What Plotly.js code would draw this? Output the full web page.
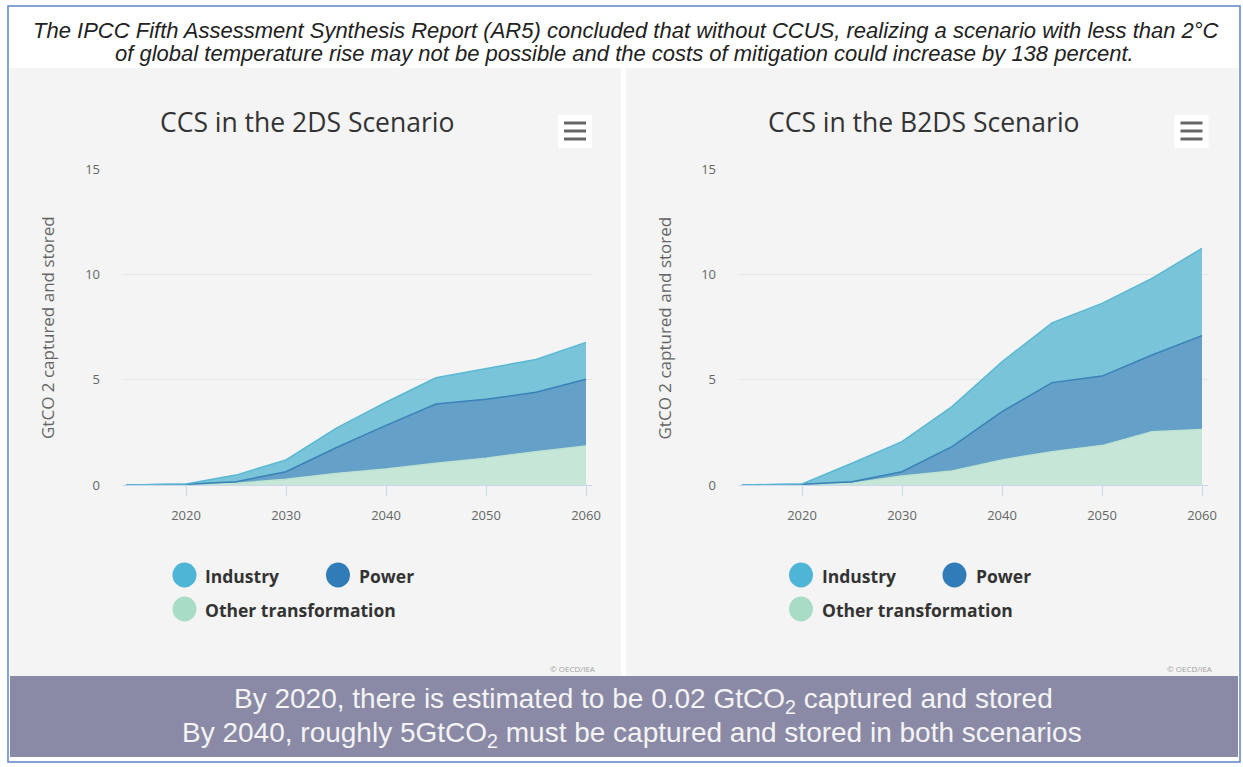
<!DOCTYPE html>
<html>
<head>
<meta charset="utf-8">
<script src="https://cdn.plot.ly/plotly-3.0.1.min.js"></script>
<style>html,body{margin:0;padding:0;background:#fff;}#chart{width:1243px;height:767px;}</style>
</head>
<body>
<div id="chart"></div>
<script>
// ---- data ----
const years = [2014, 2020, 2025, 2030, 2035, 2040, 2045, 2050, 2055, 2060];
const seriesNames = ["Industry", "Power", "Other transformation"];
const chartTitles = ["CCS in the 2DS Scenario", "CCS in the B2DS Scenario"];
const yTitle = "GtCO 2 captured and stored";
// 2DS scenario (GtCO2)
const industry2DS = [0, 0.02, 0.31, 0.56, 0.92, 1.10, 1.25, 1.47, 1.56, 1.75];
const power2DS    = [0, 0.01, 0.08, 0.36, 1.22, 2.07, 2.81, 2.80, 2.82, 3.17];
const other2DS    = [0, 0.02, 0.08, 0.27, 0.55, 0.76, 1.03, 1.27, 1.58, 1.85];
// B2DS scenario (GtCO2)
const industryB2DS = [0, 0.02, 0.87, 1.43, 1.90, 2.37, 2.84, 3.45, 3.64, 4.14];
const powerB2DS    = [0, 0.01, 0.08, 0.20, 1.16, 2.29, 3.28, 3.30, 3.64, 4.45];
const otherB2DS    = [0, 0.02, 0.08, 0.43, 0.66, 1.19, 1.58, 1.87, 2.53, 2.64];
const xTicks = [2020, 2030, 2040, 2050, 2060];
const yTicks = [0, 5, 10, 15];

const topLines = [
  "The IPCC Fifth Assessment Synthesis Report (AR5) concluded that without CCUS, realizing a scenario with less than 2°C",
  "of global temperature rise may not be possible and the costs of mitigation could increase by 138 percent."
];
const bannerLines = [
  "By 2020, there is estimated to be 0.02 GtCO<sub>2</sub> captured and stored",
  "By 2040, roughly 5GtCO<sub>2</sub> must be captured and stored in both scenarios"
];

// ---- styling ----
const W = 1243, H = 767;
const px = x => x / W;
const py = y => 1 - y / H;
const colors = {
  "Industry": {fill: "rgba(118,194,216,0.97)", line: "#58b8d3", dot: "#4fb5d6"},
  "Power": {fill: "rgba(98,158,199,0.98)", line: "#3882b8", dot: "#2f7cb8"},
  "Other transformation": {fill: "rgba(198,230,216,1)", line: "#bde3d1", dot: "#a9dcc6"}
};

function mkTraces(ind, pow, oth, xa, ya, grp) {
  const order = [["Other transformation", oth], ["Power", pow], ["Industry", ind]];
  return order.map(([name, vals]) => ({
    type: "scatter", mode: "lines", name: name, x: years, y: vals,
    xaxis: xa, yaxis: ya, stackgroup: grp,
    line: {color: colors[name].line, width: 1.5},
    fillcolor: colors[name].fill, showlegend: false, hoverinfo: "x+y+name"
  }));
}

const data = [
  ...mkTraces(industry2DS, power2DS, other2DS, "x", "y", "a"),
  ...mkTraces(industryB2DS, powerB2DS, otherB2DS, "x2", "y2", "b")
];

function xAx(d0, d1) {
  return {
    domain: [px(d0), px(d1)], range: [2013.7, 2060.6], tickvals: xTicks,
    ticks: "outside", ticklen: 10, tickcolor: "#ccd6eb", tickwidth: 1,
    showline: true, linecolor: "#ccd6eb", linewidth: 1, showgrid: false, zeroline: false,
    tickfont: {family: "Open Sans", size: 13, color: "#666"}, ticklabelstandoff: 8, fixedrange: true
  };
}
function yAx() {
  return {
    domain: [py(485), py(169)], range: [0, 15], tickvals: yTicks,
    showgrid: true, gridcolor: "#e6e6e6", gridwidth: 1, zeroline: false, showline: false,
    ticks: "", ticklabelstandoff: 22,
    tickfont: {family: "Open Sans", size: 13, color: "#666"}, fixedrange: true
  };
}

const shapes = [];
const annotations = [];
// outer box
shapes.push({type: "rect", xref: "paper", yref: "paper", x0: px(8), x1: px(1240), y0: py(762), y1: py(6),
  line: {color: "#5b86c5", width: 1.5}, fillcolor: "rgba(0,0,0,0)", layer: "below"});
// panels
shapes.push({type: "rect", xref: "paper", yref: "paper", x0: px(10), x1: px(621), y0: py(676), y1: py(68),
  line: {width: 0}, fillcolor: "#f4f4f4", layer: "below"});
shapes.push({type: "rect", xref: "paper", yref: "paper", x0: px(626), x1: px(1238), y0: py(676), y1: py(68),
  line: {width: 0}, fillcolor: "#f4f4f4", layer: "below"});
// banner
shapes.push({type: "rect", xref: "paper", yref: "paper", x0: px(10), x1: px(1238), y0: py(757), y1: py(676),
  line: {width: 0}, fillcolor: "#8a8aa6", layer: "below"});

[[topLines[0], 626, 30], [topLines[1], 624, 53]].forEach(([t, x, y]) => {
  annotations.push({xref: "paper", yref: "paper", x: px(x), y: py(y), xanchor: "center", yanchor: "middle",
    text: "<i>" + t + "</i>", showarrow: false, align: "center",
    font: {family: "Liberation Sans, Arial", size: 22, color: "#222"}});
});
[[bannerLines[0], 643, 700], [bannerLines[1], 632, 734]].forEach(([t, x, y]) => {
  annotations.push({xref: "paper", yref: "paper", x: px(x), y: py(y), xanchor: "center", yanchor: "middle",
    text: t, showarrow: false, align: "center",
    font: {family: "Liberation Sans, Arial", size: 28, color: "#f4f4f4"}});
});

const offsets = [0, 616.5];
offsets.forEach((o, i) => {
  // chart title
  annotations.push({xref: "paper", yref: "paper", x: px(307 + o), y: py(122), xanchor: "center", yanchor: "middle",
    text: chartTitles[i], showarrow: false, font: {family: "Open Sans", size: 26.5, color: "#333"}});
  // y-axis title
  annotations.push({xref: "paper", yref: "paper", x: px(47 + o), y: py(328), xanchor: "center", yanchor: "middle",
    text: yTitle, textangle: -90, showarrow: false, font: {family: "Open Sans", size: 17, color: "#666"}});
  // hamburger button
  shapes.push({type: "rect", xref: "paper", yref: "paper", x0: px(558 + o), x1: px(592 + o), y0: py(148), y1: py(115),
    line: {width: 0}, fillcolor: "#ffffff", layer: "above"});
  [123, 131, 139].forEach(yy => {
    shapes.push({type: "line", xref: "paper", yref: "paper", x0: px(564 + o), x1: px(586 + o), y0: py(yy), y1: py(yy),
      line: {color: "#666", width: 3}, layer: "above"});
  });
  // legend
  const leg = [
    {name: seriesNames[0], cx: 184.5, cy: 575, tx: 203},
    {name: seriesNames[1], cx: 338, cy: 575, tx: 357},
    {name: seriesNames[2], cx: 184.5, cy: 609, tx: 203}
  ];
  leg.forEach(l => {
    shapes.push({type: "circle", xref: "paper", yref: "paper",
      x0: px(l.cx + o - 12), x1: px(l.cx + o + 12), y0: py(l.cy + 12.5), y1: py(l.cy - 12.5),
      line: {width: 0}, fillcolor: colors[l.name].dot, layer: "above"});
    annotations.push({xref: "paper", yref: "paper", x: px(l.tx + o), y: py(l.cy + 1), xanchor: "left", yanchor: "middle",
      text: "<b>" + l.name + "</b>", showarrow: false, font: {family: "Open Sans", size: 17.5, color: "#333"}});
  });
  // credit
  annotations.push({xref: "paper", yref: "paper", x: px(598 + o), y: py(668), xanchor: "right", yanchor: "middle",
    text: "© OECD/IEA", showarrow: false, font: {family: "Open Sans", size: 8, color: "#a0a0a0"}});
});

const layout = {
  width: W, height: H, margin: {l: 0, r: 0, t: 0, b: 0},
  paper_bgcolor: "#ffffff", plot_bgcolor: "rgba(0,0,0,0)",
  showlegend: false,
  xaxis: xAx(123, 592), yaxis: yAx(),
  xaxis2: Object.assign(xAx(739, 1208), {anchor: "y2"}),
  yaxis2: Object.assign(yAx(), {anchor: "x2"}),
  shapes: shapes, annotations: annotations
};
layout.xaxis.anchor = "y";
layout.yaxis.anchor = "x";

Plotly.newPlot("chart", data, layout, {displayModeBar: false, staticPlot: true});
</script>
</body>
</html>
